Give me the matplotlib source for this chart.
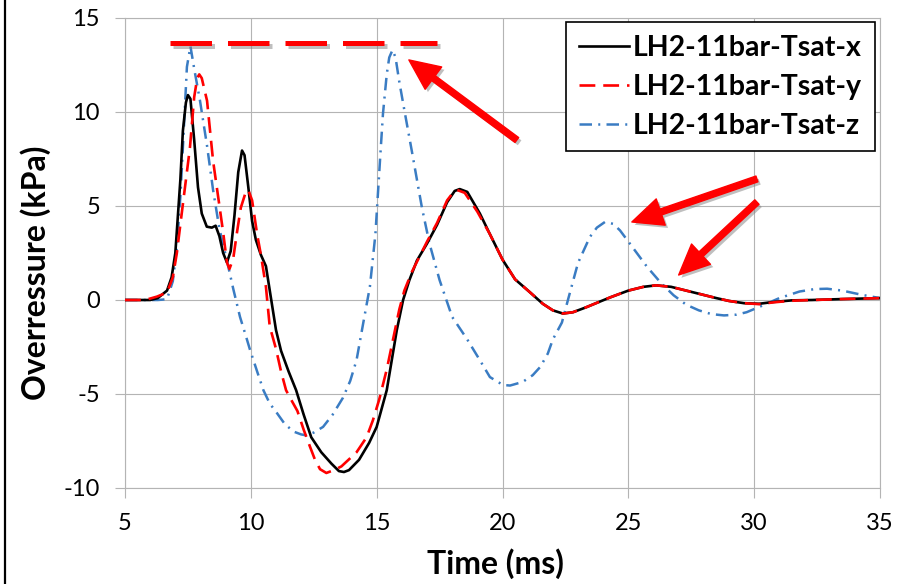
import matplotlib
matplotlib.use("Agg")
import matplotlib.pyplot as plt
import matplotlib.patheffects as pe
from matplotlib.lines import Line2D

plt.rcParams['font.family'] = ['Lato', 'DejaVu Sans']
plt.rcParams['axes.unicode_minus'] = False

# time (ms) / overpressure (kPa)
t_x = [5.0, 6.0, 6.3, 6.67, 6.85, 7.0, 7.2, 7.3, 7.42, 7.5, 7.6, 7.75, 7.9, 8.05,
       8.25, 8.45, 8.6, 8.75, 8.9, 9.05, 9.2, 9.35, 9.5, 9.65, 9.75, 9.9, 10.05,
       10.2, 10.4, 10.6, 10.8, 11.0, 11.2, 11.5, 11.8, 12.1, 12.4, 12.8, 13.2,
       13.5, 13.7, 13.9, 14.3, 14.7, 15.0, 15.4, 15.8, 16.05, 16.3, 16.6, 17.0,
       17.4, 17.8, 18.1, 18.3, 18.6, 19.1, 19.5, 20.0, 20.5, 21.1, 21.6, 22.0,
       22.4, 22.8, 23.3, 23.75, 24.3, 25.0, 25.6, 26.1, 26.7, 27.3, 27.9, 28.5,
       29.0, 29.6, 30.2, 30.8, 31.5, 32.3, 33.5, 35.0]
p_x = [0.0, 0.0, 0.1, 0.5, 1.2, 2.5, 6.4, 9.0, 10.5, 10.9, 10.7, 8.5, 6.0, 4.6,
       3.9, 3.85, 3.95, 3.4, 2.5, 2.0, 2.6, 4.5, 6.8, 7.95, 7.7, 6.0, 4.2,
       3.2, 2.4, 1.8, 0.1, -1.6, -2.7, -3.8, -4.8, -6.1, -7.3, -8.1, -8.7,
       -9.1, -9.15, -9.05, -8.5, -7.6, -6.75, -4.8, -1.6, 0.0, 1.06, 2.1, 3.0,
       4.0, 5.2, 5.8, 5.9, 5.75, 4.6, 3.5, 2.15, 1.1, 0.4, -0.2, -0.55,
       -0.72, -0.65, -0.4, -0.15, 0.15, 0.5, 0.7, 0.78, 0.7, 0.5, 0.3, 0.1,
       -0.05, -0.17, -0.2, -0.1, -0.02, 0.0, 0.05, 0.1]

t_y = [5.0, 5.8, 6.27, 6.67, 6.9, 7.06, 7.3, 7.58, 7.75, 7.87, 7.95, 8.05, 8.26,
       8.5, 8.7, 8.9, 9.05, 9.15, 9.3, 9.45, 9.6, 9.8, 9.9, 10.05, 10.25, 10.4,
       10.6, 10.75, 11.0, 11.2, 11.4, 11.6, 11.85, 12.1, 12.35, 12.55, 12.75,
       13.0, 13.3, 13.6, 14.2, 14.6, 14.85, 15.1, 15.4, 15.65, 15.9, 16.1,
       16.4, 16.7, 17.0, 17.4, 17.8, 18.0, 18.2, 18.5, 19.0, 19.5, 20.0, 20.5,
       21.1, 21.6, 22.0, 22.4, 22.8, 23.3, 23.75, 24.3, 25.0, 25.6, 26.1, 26.7,
       27.3, 27.9, 28.5, 29.0, 29.6, 30.2, 30.8, 31.5, 32.3, 33.5, 35.0]
p_y = [0.0, 0.0, 0.18, 0.4, 1.2, 2.5, 5.1, 8.1, 10.8, 11.8, 12.0, 11.8, 10.6,
       7.4, 5.5, 3.6, 2.0, 1.65, 2.2, 3.6, 4.9, 5.75, 5.85, 5.3, 3.5, 2.4,
       0.7, -1.4, -2.6, -3.8, -4.8, -5.3, -5.9, -6.9, -7.8, -8.5, -9.0,
       -9.2, -9.05, -8.85, -8.1, -7.3, -6.4, -5.3, -3.7, -2.1, -0.5, 0.5,
       1.5, 2.3, 3.1, 4.1, 5.3, 5.65, 5.85, 5.7, 4.7, 3.5, 2.15, 1.1,
       0.4, -0.2, -0.55, -0.72, -0.65, -0.4, -0.15, 0.15, 0.5, 0.7, 0.78, 0.7,
       0.5, 0.3, 0.1, -0.05, -0.17, -0.22, -0.12, -0.04, 0.0, 0.05, 0.1]

t_z = [5.0, 6.3, 6.5, 6.67, 6.9, 7.06, 7.2, 7.3, 7.46, 7.6, 7.75, 7.98, 8.26,
       8.5, 8.75, 9.05, 9.3, 9.57, 9.8, 9.97, 10.25, 10.5, 10.75, 11.03,
       11.35, 11.7, 12.0, 12.2, 12.5, 12.87, 13.25, 13.66, 13.95, 14.2, 14.47,
       14.73, 14.95, 15.15, 15.25, 15.4, 15.5, 15.63, 15.75, 15.9, 16.1, 16.4,
       16.8, 17.1, 17.5, 18.0, 18.6, 19.1, 19.5, 20.02, 20.3, 20.8, 21.2, 21.5,
       21.8, 22.0, 22.36, 22.6, 23.0, 23.47, 23.75, 24.07, 24.4, 24.67, 25.06,
       25.74, 26.3, 26.8, 27.3, 27.8, 28.3, 28.8, 29.3, 29.7, 30.2, 31.0, 31.8,
       32.4, 32.9, 33.5, 34.3, 35.0]
p_z = [0.0, 0.0, 0.02, 0.05, 1.0, 2.8, 5.5, 8.1, 12.4, 13.5, 12.3, 10.6, 8.2,
       5.85, 3.8, 2.1, 0.6, -0.9, -1.9, -2.66, -3.8, -4.8, -5.5, -6.0,
       -6.6, -7.0, -7.15, -7.2, -7.05, -6.75, -6.1, -5.2, -4.3, -3.2, -1.2,
       0.7, 3.5, 7.8, 9.9, 12.0, 12.9, 13.3, 12.9, 11.6, 10.1, 7.9,
       4.9, 3.0, 1.06, -0.9, -2.1, -3.2, -4.1, -4.52, -4.55, -4.36, -4.0, -3.56,
       -2.85, -2.1, -1.2, 0.0, 1.97, 3.35, 3.85, 4.15, 4.05, 3.7, 3.0,
       1.77, 0.9, 0.25, -0.25, -0.55, -0.75, -0.82, -0.78, -0.65, -0.37, 0.1, 0.45,
       0.58, 0.6, 0.5, 0.27, 0.1]

labels = ['LH2-11bar-Tsat-x', 'LH2-11bar-Tsat-y', 'LH2-11bar-Tsat-z']
x_ticks = [5, 10, 15, 20, 25, 30, 35]
y_ticks = [-10, -5, 0, 5, 10, 15]

# annotation marks (red dashed bar + arrows), data coords
bar_x = [6.79, 17.4]
bar_y = 13.67
arrows = [((20.57, 8.51), (16.28, 12.77)),
          ((30.11, 6.44), (25.14, 4.15)),
          ((30.11, 5.21), (27.0, 1.33))]

grid_c = '#B4B4B4'
blue = '#3A7CC3'

fig = plt.figure(figsize=(9.06, 5.84), dpi=100)
ax = fig.add_axes([125/906, 96/584, 755/906, 470/584])

ax.plot(t_x, p_x, color='black', lw=1.9, label=labels[0], zorder=4)
ax.plot(t_y, p_y, color='#FF0000', lw=1.9, dashes=(6, 3), label=labels[1], zorder=4)
ax.plot(t_z, p_z, color=blue, lw=1.8, dashes=(5, 2.5, 0.8, 2.5), label=labels[2], zorder=3)

ax.set_xlim(5, 35)
ax.set_ylim(-10, 15)
ax.set_xticks(x_ticks)
ax.set_yticks(y_ticks)
ax.grid(True, color=grid_c, lw=0.8)
ax.set_axisbelow(True)
for s in ax.spines.values():
    s.set_color(grid_c)
    s.set_linewidth(0.8)
ax.tick_params(direction='out', length=7, width=0.8, color=grid_c,
               labelsize=17, pad=11)

fig.text(36/906, 1 - 273/584, 'Overressure (kPa)', rotation=90, ha='center',
         va='center', fontsize=23, fontweight='bold')
fig.text(495/906, 1 - 564/584, 'Time (ms)', ha='center', va='center',
         fontsize=23, fontweight='bold')

leg = ax.legend(loc='upper right', bbox_to_anchor=(0.993, 0.991), borderaxespad=0,
                prop={'size': 20.5, 'weight': 'bold'}, handlelength=1.75,
                handletextpad=0.15, labelspacing=0.45, fancybox=False,
                framealpha=1, borderpad=0.45)
leg.get_frame().set_edgecolor('black')
leg.get_frame().set_linewidth(1.2)

shadow_line = [pe.SimpleLineShadow(offset=(2, -2), shadow_color='gray', alpha=0.5), pe.Normal()]
ax.plot(bar_x, [bar_y, bar_y], color='#FF0000', lw=3.6, dashes=(8.3, 3.2),
        solid_capstyle='butt', dash_capstyle='butt', path_effects=shadow_line, zorder=6)

shadow_patch = [pe.SimplePatchShadow(offset=(2, -2), shadow_rgbFace='gray', alpha=0.5), pe.Normal()]
for tail, tip in arrows:
    ax.annotate('', xy=tip, xytext=tail,
                arrowprops=dict(arrowstyle='simple,head_length=1.1,head_width=1.0,tail_width=0.22',
                                mutation_scale=20, color='#FF0000', shrinkA=0, shrinkB=0,
                                path_effects=shadow_patch), zorder=6)

fig.add_artist(Line2D([5/906, 5/906], [0, 1], transform=fig.transFigure, color='black', lw=1.6))

fig.savefig('out.png', dpi=100)
